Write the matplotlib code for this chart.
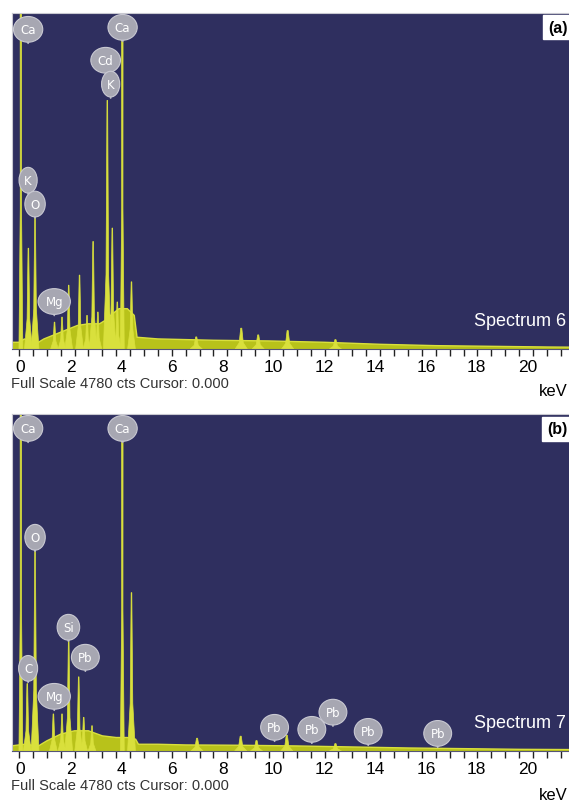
import numpy as np
import matplotlib.pyplot as plt

# --- data (energy in keV, counts as fraction of full scale) ---
full_scale = 4780

# spectrum 6 background outline
bg6_e = [-0.3, 0.0, 0.2, 0.45, 0.7, 0.9, 1.2, 1.5, 1.8, 2.1, 2.5, 2.9, 3.1, 3.3, 3.6,
         3.9, 4.15, 4.25, 5, 6, 7, 8, 9, 10, 11, 12, 13, 14, 15, 16, 17, 18, 19, 20.5]
bg6_a = [0.02, 0.02, 0.03, 0.02, 0.02, 0.03, 0.04, 0.05, 0.06, 0.07, 0.075, 0.075, 0.085,
         0.1, 0.12, 0.12, 0.1, 0.035, 0.03, 0.028, 0.026, 0.025, 0.024, 0.022, 0.02,
         0.017, 0.014, 0.012, 0.01, 0.009, 0.008, 0.007, 0.006, 0.005]
# spectrum 6 peaks
pk6_e = [0.07, 0.34, 0.58, 1.28, 1.55, 1.79, 2.18, 2.45, 2.67, 2.84, 3.18, 3.36, 3.54,
         3.72, 4.05, 6.38, 8.0, 8.61, 9.67, 11.39]
pk6_a = [1.4, 0.30, 0.40, 0.08, 0.095, 0.19, 0.22, 0.10, 0.32, 0.11, 0.74, 0.36, 0.14,
         1.4, 0.20, 0.036, 0.062, 0.042, 0.055, 0.028]

# spectrum 7 background outline
bg7_e = [-0.3, 0.2, 0.7, 1.0, 1.5, 2.0, 2.5, 3.0, 3.5, 3.9, 4.2, 4.3, 5, 6, 8, 10,
         12, 14, 16, 18, 20.5]
bg7_a = [0.015, 0.02, 0.015, 0.03, 0.05, 0.06, 0.06, 0.045, 0.04, 0.04, 0.035, 0.02,
         0.02, 0.018, 0.017, 0.015, 0.012, 0.009, 0.007, 0.005, 0.004]
pk7_e = [0.07, 0.30, 0.58, 1.24, 1.55, 1.79, 2.15, 2.33, 2.63, 3.72, 4.05, 6.41, 7.98,
         8.55, 9.64, 11.39]
pk7_a = [1.4, 0.20, 0.60, 0.11, 0.11, 0.33, 0.22, 0.10, 0.075, 1.4, 0.47, 0.038, 0.044,
         0.031, 0.047, 0.022]

# element labels: text, energy, stem tip height
lab6_t = ['Ca', 'Ca', 'Cd', 'K', 'K', 'O', 'Mg']
lab6_e = [0.33, 3.73, 3.12, 3.30, 0.33, 0.58, 1.27]
lab6_a = [0.91, 0.916, 0.818, 0.747, 0.461, 0.39, 0.10]

lab7_t = ['Ca', 'Ca', 'O', 'Si', 'C', 'Pb', 'Mg', 'Pb', 'Pb', 'Pb', 'Pb', 'Pb']
lab7_e = [0.33, 3.73, 0.58, 1.78, 0.33, 2.39, 1.27, 9.2, 10.54, 11.30, 12.57, 15.07]
lab7_a = [0.916, 0.916, 0.593, 0.326, 0.204, 0.237, 0.121, 0.029, 0.023, 0.074, 0.017,
          0.011]

tick_labels = [str(v) for v in range(0, 21, 2)]

navy = '#2f2f5f'
fill_c = '#b8c21a'
peak_c = '#d9e03c'


def draw_panel(ax, bg_e, bg_a, pk_e, pk_a, lab_t, lab_e, lab_a, name):
    ax.set_facecolor(navy)
    bg = np.array(bg_a) * full_scale
    ax.fill_between(bg_e, 0, bg, color=fill_c, lw=0)
    ax.plot(bg_e, bg, color=peak_c, lw=1.0)
    for e, a in zip(pk_e, pk_a):
        h = a * full_scale
        if a > 1:
            w, t = 0.07, 0.03
        elif e < 5:
            w, t = 0.14, 0.012
        else:
            w, t = 0.22, 0.02
        ax.fill([e - w, e - w / 3, e - t, e + t, e + w / 3, e + w],
                [0, 0.3 * h, h, h, 0.3 * h, 0],
                color=peak_c, lw=0.5, ec=peak_c)
    for txt, e, a in zip(lab_t, lab_e, lab_a):
        ax.annotate(txt, xy=(e, a * full_scale), xytext=(0, 10), textcoords='offset points',
                    ha='center', va='center', color='white', fontsize=8.5,
                    bbox=dict(boxstyle='ellipse,pad=0.22', fc='#a7a7b2', ec='#c9c9d2', lw=0.8),
                    arrowprops=dict(arrowstyle='-', color='#b5b5c0', lw=1.3,
                                    shrinkA=0, shrinkB=0))
    ax.set_xlim(-0.25, 19.93)
    ax.set_ylim(0, full_scale)
    ax.set_yticks([])
    ax.set_xticks(np.arange(0, 20.01, 0.5))
    ax.set_xticklabels([])
    ax.tick_params(axis='x', which='major', length=5, width=1, color='#222222', direction='out')
    # the printed numbers sit on their own spacing in the original screenshot
    lbl_pos = np.arange(0, 21, 2) * 0.913 + 0.04
    ax.set_xticks(lbl_pos, minor=True)
    ax.set_xticklabels(tick_labels, minor=True, fontsize=12.5, family='Liberation Sans')
    ax.tick_params(axis='x', which='minor', length=0, pad=7)
    for s in ax.spines.values():
        s.set_color('#c8c8d0')
        s.set_linewidth(0.8)
    ax.spines['bottom'].set_color('#555577')
    ax.text(0.985, 0.085, name, transform=ax.transAxes, ha='right', va='center',
            color='white', fontsize=13, family='Liberation Sans')
    ax.text(-0.002, -0.1, 'Full Scale 4780 cts Cursor: 0.000', transform=ax.transAxes,
            ha='left', va='center', fontsize=10.5, color='#333333',
            family=['Liberation Sans Narrow', 'Liberation Sans'])


fig = plt.figure(figsize=(5.69, 8.04), dpi=100)
ax1 = fig.add_axes([12 / 569, 1 - 350 / 804, 1 - 12 / 569 + 0.01, 336 / 804])
ax2 = fig.add_axes([12 / 569, 1 - 752 / 804, 1 - 12 / 569 + 0.01, 337 / 804])

draw_panel(ax1, bg6_e, bg6_a, pk6_e, pk6_a, lab6_t, lab6_e, lab6_a, 'Spectrum 6')
draw_panel(ax2, bg7_e, bg7_a, pk7_e, pk7_a, lab7_t, lab7_e, lab7_a, 'Spectrum 7')

# panel tags and unit text, anchored to the right edge of the figure
for tag, ty, ky in [('(a)', 1 - 28 / 804, 1 - 392 / 804), ('(b)', 1 - 430 / 804, 1 - 796 / 804)]:
    fig.text(0.997, ty, tag, ha='right', va='center', fontsize=11.5, fontweight='bold',
             family='Liberation Sans',
             bbox=dict(boxstyle='square,pad=0.3', fc='white', ec='white'))
    fig.text(0.998, ky, 'keV', ha='right', va='center', fontsize=12,
             family='Liberation Sans')

fig.savefig('out.png', dpi=100)
